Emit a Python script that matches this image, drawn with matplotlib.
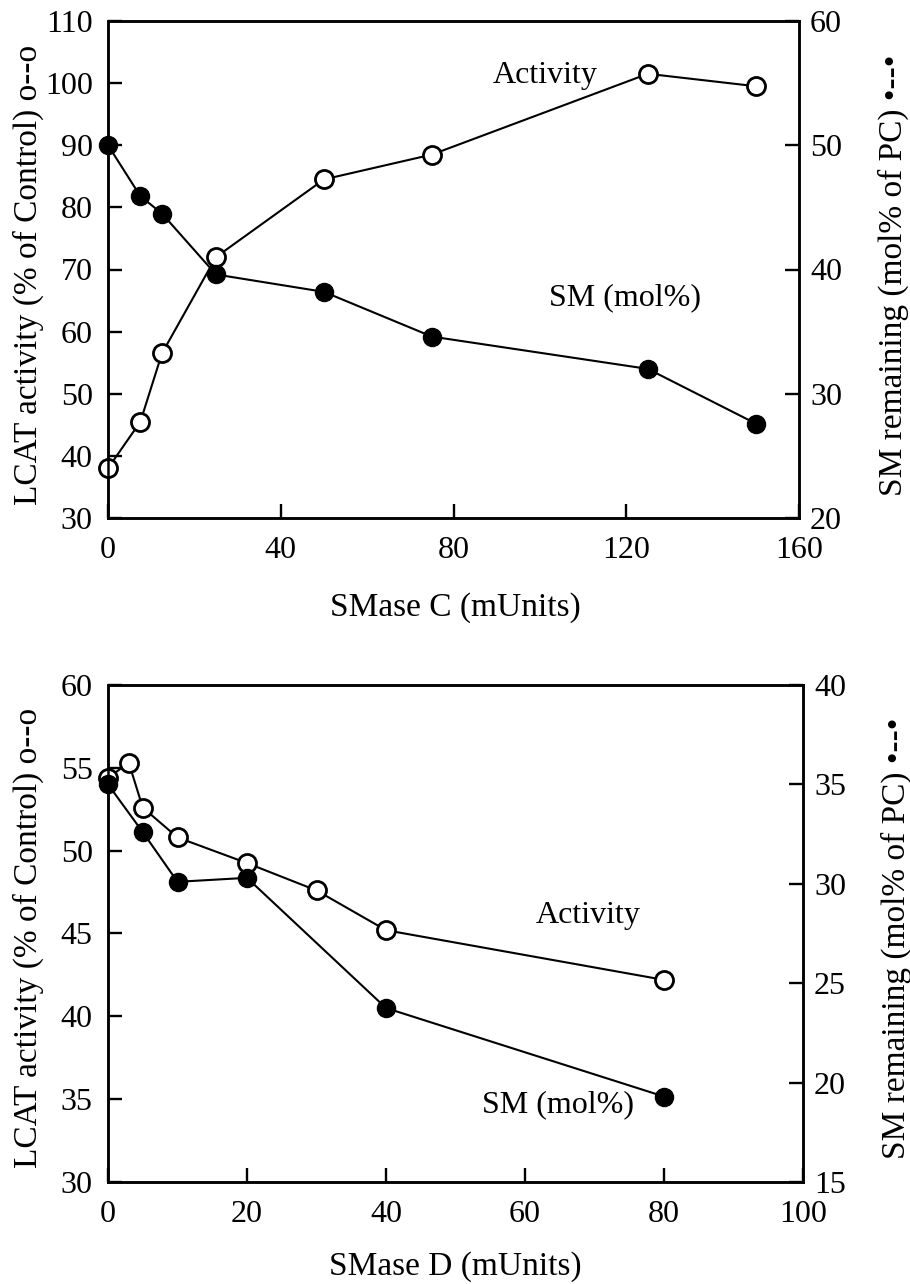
import matplotlib
matplotlib.use("Agg")
import matplotlib.pyplot as plt

plt.rcParams['font.family'] = ['Liberation Serif', 'DejaVu Serif']

# Panel A: SMase C
smc_x = [0, 7.5, 12.5, 25, 50, 75, 125, 150]
smc_activity = [38, 45.5, 56.5, 72, 84.5, 88.5, 101.5, 99.5]
smc_sm = [50, 45.9, 44.5, 39.6, 38.2, 34.6, 32, 27.6]

# Panel B: SMase D
smd_act_x = [0, 3, 5, 10, 20, 30, 40, 80]
smd_activity = [54.4, 55.3, 52.6, 50.8, 49.25, 47.6, 45.2, 42.2]
smd_sm_x = [0, 5, 10, 20, 40, 80]
smd_sm = [35.0, 32.6, 30.1, 30.3, 23.75, 19.3]

W, H = 910, 1284
fig = plt.figure(figsize=(W / 100, H / 100), dpi=100)

FS = 23
LFS = 24
ms = 13


def px_axes(l, t, r, b):
    return fig.add_axes([l / W, 1 - b / H, (r - l) / W, (b - t) / H])


def style(ax):
    for s in ax.spines.values():
        s.set_linewidth(1.8)
    ax.tick_params(axis='both', direction='in', width=1.7, labelsize=FS)
    ax.tick_params(axis='y', length=10, pad=11)
    ax.tick_params(axis='x', length=10, pad=13)


def panel(box, xlim, xticks, ylim, yticks, y2lim, y2ticks,
          ax_x, act, sm_x, sm, xlabel, act_pos, sm_pos, lab_y, xlab_y, rlab_x):
    ax = px_axes(*box)
    ax.plot(ax_x, act, '-', color='black', lw=1.5, marker='o', ms=ms,
            mfc='white', mec='black', mew=2.0, clip_on=False, zorder=3)
    ax.set_xlim(*xlim)
    ax.set_ylim(*ylim)
    ax.set_xticks(xticks)
    ax.set_yticks(yticks)
    style(ax)
    ax2 = ax.twinx()
    ax2.plot(sm_x, sm, '-', color='black', lw=1.5, marker='o', ms=ms,
             mfc='black', mec='black', mew=1.0, clip_on=False, zorder=3)
    ax2.set_ylim(*y2lim)
    ax2.set_yticks(y2ticks)
    style(ax2)
    ax2.tick_params(axis='y', pad=8)
    fig.text(act_pos[0] / W, 1 - act_pos[1] / H, 'Activity', fontsize=FS,
             ha='center', va='center')
    fig.text(sm_pos[0] / W, 1 - sm_pos[1] / H, 'SM (mol%)', fontsize=FS,
             ha='center', va='center')
    fig.text(28 / W, 1 - lab_y / H, 'LCAT activity (% of Control) o--o',
             fontsize=LFS, rotation=90, ha='center', va='center')
    fig.text(rlab_x / W, 1 - lab_y / H, 'SM remaining (mol% of PC) \u2022--\u2022',
             fontsize=LFS, rotation=90, ha='center', va='center')
    fig.text(455 / W, 1 - xlab_y / H, xlabel, fontsize=LFS,
             ha='center', va='center')
    return ax, ax2


panel((108, 21, 799, 518), (0, 160), [0, 40, 80, 120, 160],
      (30, 110), list(range(30, 111, 10)), (20, 60), [20, 30, 40, 50, 60],
      smc_x, smc_activity, smc_x, smc_sm, 'SMase C (mUnits)',
      (545, 75), (625, 298), 275, 608, 893)

panel((108, 685, 803, 1182), (0, 100), [0, 20, 40, 60, 80, 100],
      (30, 60), list(range(30, 61, 5)), (15, 40), list(range(15, 41, 5)),
      smd_act_x, smd_activity, smd_sm_x, smd_sm, 'SMase D (mUnits)',
      (588, 915), (558, 1105), 938, 1267, 896)

fig.savefig('out.png', dpi=100)
